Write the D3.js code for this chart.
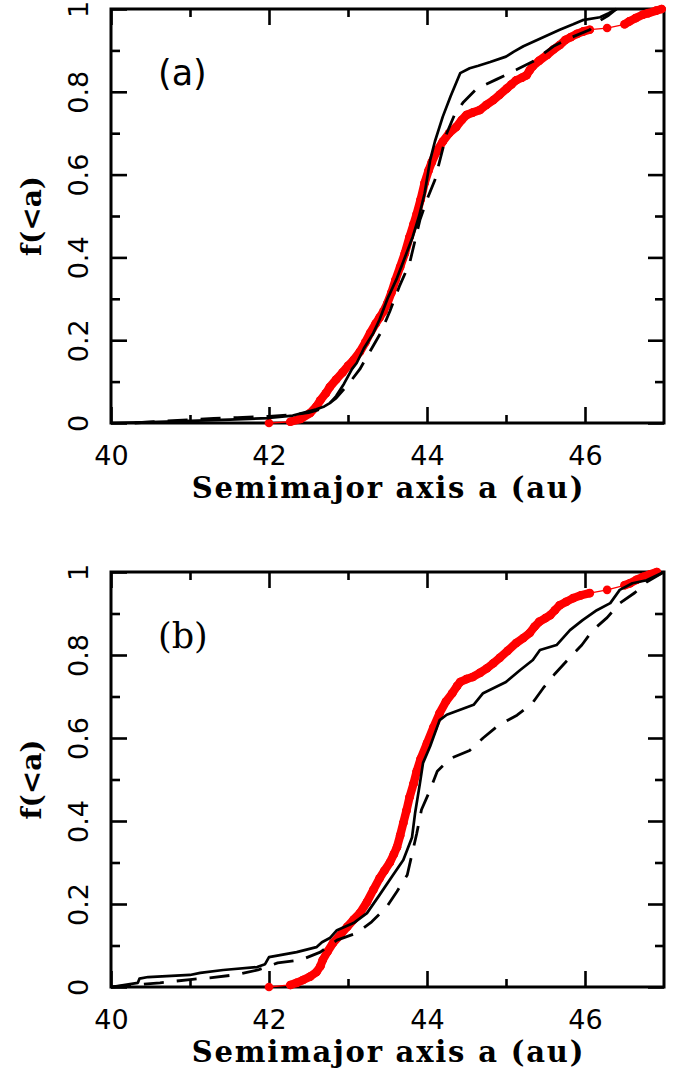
<!DOCTYPE html>
<html>
<head>
<meta charset="utf-8">
<script src="https://cdn.jsdelivr.net/npm/d3@7"></script>
<style>
  html, body { margin: 0; padding: 0; background: #fff; }
  svg { display: block; }
</style>
</head>
<body>
<svg id="chart" width="685" height="1082"></svg>
<script>
// ---------------- DATA ----------------
const xMajorTicks = [40, 42, 44, 46];
const xMinorTicks = [41, 43, 45];
const yMajorTicks = [0, 0.2, 0.4, 0.6, 0.8, 1];
const yMinorTicks = [0.1, 0.3, 0.5, 0.7, 0.9];
const yTickLabels = ["0", "0.2", "0.4", "0.6", "0.8", "1"];
const panelLabels = ["(a)", "(b)"];
const xLabel = "Semimajor axis a (au)";
const yLabel = "f(<a)";

// Panel (a)
const solidA = [
  [40.00,0.000],[40.50,0.002],[41.00,0.005],[41.50,0.008],[42.00,0.012],[42.30,0.018],
  [42.48,0.027],[42.60,0.033],[42.70,0.040],[42.77,0.048],[42.85,0.065],[42.95,0.095],
  [43.05,0.130],[43.11,0.145],[43.20,0.180],[43.32,0.217],[43.40,0.250],[43.50,0.300],
  [43.62,0.350],[43.72,0.400],[43.82,0.450],[43.90,0.500],[43.97,0.555],[44.04,0.635],
  [44.10,0.680],[44.20,0.740],[44.30,0.790],[44.42,0.845],[44.54,0.857],[44.65,0.863],
  [44.80,0.872],[45.00,0.885],[45.10,0.897],[45.22,0.910],[45.45,0.930],[45.68,0.950],
  [45.85,0.963],[45.97,0.973],[46.19,0.980],[46.30,0.990],[46.40,1.000]
];
const dashedA = [
  [40.30,0.000],[40.60,0.004],[41.00,0.008],[41.30,0.011],[41.60,0.013],[42.00,0.016],
  [42.30,0.020],[42.50,0.025],[42.68,0.035],[42.85,0.060],[43.03,0.100],[43.15,0.130],
  [43.30,0.180],[43.42,0.220],[43.53,0.270],[43.65,0.330],[43.78,0.386],[43.91,0.490],
  [44.00,0.540],[44.10,0.587],[44.25,0.700],[44.35,0.745],[44.46,0.775],[44.63,0.808],
  [44.88,0.830],[45.13,0.853],[45.34,0.873],[45.60,0.910],[45.81,0.930],[46.06,0.950],
  [46.19,0.972],[46.30,0.985],[46.40,1.000]
];
const redA = [
  [42.00,0.000],[42.27,0.003],[42.40,0.010],[42.52,0.024],[42.60,0.040],[42.65,0.055],
  [42.72,0.072],[42.77,0.087],[42.85,0.105],[42.93,0.122],[43.00,0.138],[43.07,0.152],
  [43.15,0.172],[43.22,0.195],[43.28,0.217],[43.35,0.240],[43.40,0.255],[43.45,0.270],
  [43.50,0.290],[43.55,0.315],[43.60,0.345],[43.66,0.377],[43.72,0.410],[43.78,0.450],
  [43.83,0.480],[43.87,0.505],[43.92,0.540],[43.97,0.580],[44.02,0.610],[44.06,0.630],
  [44.12,0.655],[44.20,0.680],[44.28,0.700],[44.37,0.715],[44.44,0.732],[44.50,0.744],
  [44.58,0.750],[44.67,0.756],[44.75,0.768],[44.84,0.780],[44.92,0.793],[45.01,0.808],
  [45.07,0.818],[45.13,0.828],[45.20,0.834],[45.26,0.840],[45.30,0.852],[45.34,0.862],
  [45.42,0.875],[45.52,0.889],[45.60,0.902],[45.68,0.913],[45.75,0.925],[45.82,0.932],
  [45.90,0.940],[45.98,0.946],[46.06,0.950],[46.28,0.954],[46.50,0.963],[46.56,0.970],
  [46.64,0.978],[46.73,0.986],[46.80,0.990],[46.90,0.996],[46.97,1.000]
];

// Panel (b)
const solidB = [
  [40.00,0.000],[40.34,0.010],[40.36,0.020],[40.47,0.024],[41.00,0.029],[41.13,0.034],
  [41.42,0.041],[41.85,0.048],[41.95,0.055],[42.00,0.072],[42.35,0.084],[42.60,0.096],
  [42.67,0.108],[42.77,0.118],[42.86,0.137],[43.07,0.154],[43.24,0.178],[43.40,0.222],
  [43.57,0.270],[43.70,0.306],[43.81,0.360],[43.85,0.420],[43.91,0.490],[43.95,0.540],
  [44.04,0.580],[44.16,0.643],[44.25,0.656],[44.42,0.668],[44.59,0.680],[44.71,0.708],
  [45.00,0.735],[45.18,0.764],[45.34,0.788],[45.43,0.812],[45.64,0.824],[45.81,0.860],
  [45.97,0.884],[46.15,0.908],[46.32,0.925],[46.44,0.957],[46.60,0.973],[46.78,0.980],
  [47.00,1.000]
];
const dashedB = [
  [40.00,0.000],[40.62,0.010],[41.00,0.018],[41.25,0.022],[41.60,0.030],[41.86,0.041],
  [42.11,0.058],[42.40,0.065],[42.65,0.084],[42.86,0.113],[43.11,0.130],[43.30,0.157],
  [43.49,0.193],[43.62,0.230],[43.75,0.270],[43.81,0.320],[43.87,0.370],[43.93,0.427],
  [44.04,0.475],[44.13,0.520],[44.29,0.550],[44.54,0.570],[44.71,0.600],[44.90,0.630],
  [45.14,0.655],[45.33,0.683],[45.47,0.720],[45.62,0.755],[45.79,0.790],[45.96,0.824],
  [46.10,0.860],[46.28,0.890],[46.44,0.925],[46.63,0.950],[46.78,0.976],[47.00,1.000]
];
const redB = [
  [42.00,0.000],[42.27,0.005],[42.35,0.010],[42.43,0.017],[42.52,0.025],[42.60,0.036],
  [42.65,0.050],[42.68,0.065],[42.74,0.085],[42.81,0.106],[42.90,0.125],[42.99,0.145],
  [43.07,0.162],[43.15,0.178],[43.24,0.205],[43.32,0.234],[43.40,0.262],[43.46,0.280],
  [43.53,0.300],[43.58,0.320],[43.62,0.337],[43.66,0.365],[43.70,0.395],[43.74,0.425],
  [43.78,0.458],[43.83,0.490],[43.87,0.520],[43.92,0.550],[44.00,0.587],[44.08,0.625],
  [44.16,0.660],[44.24,0.688],[44.32,0.708],[44.38,0.725],[44.42,0.735],[44.50,0.742],
  [44.58,0.747],[44.67,0.757],[44.76,0.768],[44.84,0.780],[44.92,0.793],[45.02,0.810],
  [45.13,0.829],[45.22,0.841],[45.30,0.853],[45.36,0.868],[45.42,0.880],[45.50,0.889],
  [45.56,0.896],[45.62,0.908],[45.68,0.920],[45.76,0.928],[45.85,0.937],[45.95,0.944],
  [46.06,0.949],[46.28,0.957],[46.50,0.968],[46.57,0.973],[46.65,0.981],[46.73,0.988],
  [46.82,0.994],[46.91,1.000]
];

// ---------------- DRAWING ----------------
const svg = d3.select("#chart");
const X0 = 111, X1 = 664;
const panels = [
  { label: panelLabels[0], top: 9,   bottom: 423, solid: solidA, dashed: dashedA, red: redA, labelFont: "DejaVu Sans" },
  { label: panelLabels[1], top: 572, bottom: 987, solid: solidB, dashed: dashedB, red: redB, labelFont: "DejaVu Serif" }
];

const x = d3.scaleLinear().domain([40, 47]).range([X0, X1]);

panels.forEach(p => {
  const y = d3.scaleLinear().domain([0, 1]).range([p.bottom, p.top]);
  const g = svg.append("g");
  const line = d3.line().x(d => x(d[0])).y(d => y(d[1]));

  // axes (ticks inward)
  const font = "DejaVu Sans";
  const bottomMajor = g.append("g").attr("transform", `translate(0,${p.bottom})`)
    .call(d3.axisBottom(x).tickValues(xMajorTicks).tickSize(-16).tickFormat(d3.format("d")));
  bottomMajor.selectAll("text").attr("y", 42).attr("dy", 0)
    .attr("font-family", font).attr("font-size", 27).attr("fill", "#000");
  g.append("g").attr("transform", `translate(0,${p.bottom})`)
    .call(d3.axisBottom(x).tickValues(xMinorTicks).tickSize(-8).tickFormat(""));
  g.append("g").attr("transform", `translate(0,${p.top})`)
    .call(d3.axisTop(x).tickValues(xMajorTicks).tickSize(-16).tickFormat(""));
  g.append("g").attr("transform", `translate(0,${p.top})`)
    .call(d3.axisTop(x).tickValues(xMinorTicks).tickSize(-8).tickFormat(""));

  const leftMajor = g.append("g").attr("transform", `translate(${X0},0)`)
    .call(d3.axisLeft(y).tickValues(yMajorTicks).tickSize(-16)
      .tickFormat((d, i) => yTickLabels[i]));
  leftMajor.selectAll("text")
    .attr("transform", "rotate(-90)").attr("x", 0).attr("y", -23).attr("dy", 0)
    .attr("text-anchor", "middle")
    .attr("font-family", font).attr("font-size", 27).attr("fill", "#000");
  g.append("g").attr("transform", `translate(${X0},0)`)
    .call(d3.axisLeft(y).tickValues(yMinorTicks).tickSize(-9).tickFormat(""));
  g.append("g").attr("transform", `translate(${X1},0)`)
    .call(d3.axisRight(y).tickValues(yMajorTicks).tickSize(-16).tickFormat(""));
  g.append("g").attr("transform", `translate(${X1},0)`)
    .call(d3.axisRight(y).tickValues(yMinorTicks).tickSize(-9).tickFormat(""));

  g.selectAll(".domain").remove();
  g.selectAll(".tick line").attr("stroke", "#000").attr("stroke-width", 2.6);

  // frame
  g.append("rect").attr("x", X0).attr("y", p.top)
    .attr("width", X1 - X0).attr("height", p.bottom - p.top)
    .attr("fill", "none").attr("stroke", "#000").attr("stroke-width", 3);

  // plot marks (drawn above the frame)
  const clipId = "clip" + p.top;
  svg.append("clipPath").attr("id", clipId).append("rect")
    .attr("x", X0).attr("y", p.top - 6).attr("width", X1 - X0 + 6).attr("height", p.bottom - p.top + 12);
  const plot = g.append("g").attr("clip-path", `url(#${clipId})`);

  // red curve: thin connecting line, thick band where points are dense, dots
  plot.append("path").datum(p.red).attr("d", line)
    .attr("fill", "none").attr("stroke", "#ff0000").attr("stroke-width", 1.3);
  const pairs = d3.pairs(p.red).filter(([a, b]) => Math.abs(x(b[0]) - x(a[0])) < 13);
  plot.selectAll(".band").data(pairs).join("line")
    .attr("x1", d => x(d[0][0])).attr("y1", d => y(d[0][1]))
    .attr("x2", d => x(d[1][0])).attr("y2", d => y(d[1][1]))
    .attr("stroke", "#ff0000").attr("stroke-width", 8.4).attr("stroke-linecap", "round");
  plot.selectAll(".dot").data(p.red).join("circle")
    .attr("cx", d => x(d[0])).attr("cy", d => y(d[1])).attr("r", 4.3)
    .attr("fill", "#ff0000");

  // black curves
  plot.append("path").datum(p.dashed).attr("d", line)
    .attr("fill", "none").attr("stroke", "#000").attr("stroke-width", 2.8)
    .attr("stroke-dasharray", "20,13").attr("stroke-linejoin", "round");
  plot.append("path").datum(p.solid).attr("d", line)
    .attr("fill", "none").attr("stroke", "#000").attr("stroke-width", 2.7)
    .attr("stroke-linejoin", "round");

  // panel label
  g.append("text").attr("x", 158).attr("y", p.top + 76)
    .attr("font-family", p.labelFont).attr("font-size", 35).attr("fill", "#000")
    .text(p.label);

  // axis labels
  g.append("text").attr("x", (X0 + X1) / 2 + 1).attr("y", p.bottom + 75)
    .attr("text-anchor", "middle").attr("font-family", "DejaVu Serif")
    .attr("font-weight", "bold").attr("font-size", 29).attr("letter-spacing", 1.8)
    .attr("fill", "#000")
    .text(xLabel);
  g.append("text")
    .attr("transform", `translate(41,${(p.top + p.bottom) / 2}) rotate(-90)`)
    .attr("text-anchor", "middle").attr("font-family", "DejaVu Serif")
    .attr("font-weight", "bold").attr("font-size", 28).attr("fill", "#000")
    .text(yLabel);
});
</script>
</body>
</html>
